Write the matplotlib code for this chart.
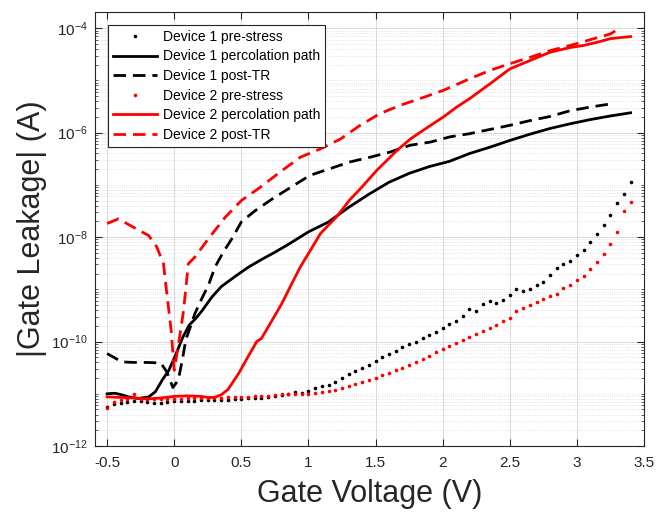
"""Gate leakage vs gate voltage for two devices (pre-stress, percolation path, post-TR)."""

import matplotlib

matplotlib.use("Agg")
import matplotlib.pyplot as plt
import numpy as np
from matplotlib.ticker import FixedLocator, LogLocator, NullFormatter

plt.rcParams["font.family"] = ["Liberation Sans", "DejaVu Sans"]
plt.rcParams["mathtext.default"] = "regular"

# Voltage sweep of the pre-stress measurements (V)
v_sweep = np.round(np.arange(-0.5, 3.4001, 0.05), 2)

# log10 |I_gate| (A)
d1_pre_log = [
    -11.25, -11.20, -11.17, -11.15, -11.14, -11.14, -11.16, -11.18, -11.18, -11.16,
    -11.14, -11.14, -11.13, -11.13, -11.12, -11.12, -11.12, -11.11, -11.11, -11.10,
    -11.10, -11.09, -11.09, -11.08, -11.07, -11.05, -11.02, -11.01, -10.97, -10.98,
    -10.95, -10.89, -10.85, -10.83, -10.78, -10.70, -10.63, -10.57, -10.51, -10.45,
    -10.38, -10.30, -10.24, -10.18, -10.10, -10.05, -10.00, -9.94, -9.88, -9.82,
    -9.75, -9.67, -9.60, -9.51, -9.38, -9.41, -9.28, -9.22, -9.26, -9.21,
    -9.11, -8.99, -9.03, -9.00, -8.92, -8.86, -8.72, -8.60, -8.52, -8.45,
    -8.35, -8.25, -8.10, -7.95, -7.76, -7.57, -7.34, -7.18, -6.95,
]
d2_pre_log = [
    -11.28, -11.15, -11.12, -11.10, -11.00, -11.10, -11.10, -11.10, -11.10, -11.10,
    -11.10, -11.10, -11.09, -11.09, -11.09, -11.09, -11.08, -11.08, -11.07, -11.07,
    -11.06, -11.06, -11.04, -11.04, -11.04, -11.02, -11.01, -11.01, -11.01, -11.00,
    -11.01, -10.99, -10.97, -10.95, -10.92, -10.89, -10.85, -10.81, -10.78, -10.74,
    -10.69, -10.64, -10.60, -10.55, -10.50, -10.44, -10.39, -10.33, -10.27, -10.20,
    -10.15, -10.08, -10.03, -9.97, -9.91, -9.86, -9.80, -9.74, -9.68, -9.60,
    -9.54, -9.42, -9.35, -9.30, -9.24, -9.19, -9.13, -9.09, -8.98, -8.92,
    -8.83, -8.75, -8.62, -8.48, -8.33, -8.14, -7.90, -7.50, -7.32,
]

d1_perc_v = [
    -0.5, -0.44, -0.39, -0.34, -0.27, -0.19, -0.14, -0.09, -0.04, 0.01,
    0.06, 0.11, 0.16, 0.21, 0.28, 0.35, 0.45, 0.55, 0.65, 0.75,
    0.85, 1.0, 1.15, 1.3, 1.45, 1.6, 1.75, 1.9, 2.05, 2.2,
    2.35, 2.5, 2.65, 2.8, 2.95, 3.1, 3.25, 3.4,
]
d1_perc_log = [
    -11.00, -10.99, -11.02, -11.06, -11.09, -11.06, -10.96, -10.74, -10.55, -10.26,
    -9.94, -9.69, -9.56, -9.40, -9.15, -8.95, -8.76, -8.58, -8.43, -8.29,
    -8.14, -7.90, -7.71, -7.43, -7.18, -6.95, -6.78, -6.65, -6.55, -6.40,
    -6.28, -6.15, -6.03, -5.92, -5.83, -5.75, -5.68, -5.62,
]

d1_post_v = [
    -0.5, -0.39, -0.3, -0.2, -0.1, -0.055, -0.01, 0.03, 0.06, 0.086,
    0.12, 0.155, 0.205, 0.255, 0.305, 0.367, 0.43, 0.5, 0.6, 0.73,
    0.86, 1.01, 1.16, 1.31, 1.46, 1.61, 1.76, 1.91, 2.055, 2.2,
    2.35, 2.5, 2.65, 2.8, 2.95, 3.1, 3.25,
]
d1_post_log = [
    -10.23, -10.39, -10.40, -10.40, -10.41, -10.58, -10.88, -10.74, -10.36, -9.97,
    -9.72, -9.46, -9.18, -8.92, -8.57, -8.28, -8.03, -7.71, -7.50, -7.27,
    -7.06, -6.82, -6.69, -6.56, -6.47, -6.37, -6.24, -6.18, -6.08, -6.02,
    -5.94, -5.86, -5.77, -5.69, -5.58, -5.51, -5.45,
]

d2_perc_v = [
    -0.5, -0.4, -0.3, -0.2, -0.1, 0.0, 0.1, 0.2, 0.25, 0.3,
    0.35, 0.4, 0.48, 0.55, 0.615, 0.65, 0.73, 0.8, 0.876, 0.94,
    1.09, 1.21, 1.31, 1.385, 1.51, 1.66, 1.76, 1.91, 2.005, 2.105,
    2.2, 2.35, 2.5, 2.65, 2.8, 2.95, 3.05, 3.15, 3.25, 3.4,
]
d2_perc_log = [
    -11.06, -11.07, -11.08, -11.10, -11.08, -11.05, -11.04, -11.05, -11.07, -11.07,
    -11.02, -10.92, -10.61, -10.29, -10.00, -9.94, -9.59, -9.28, -8.89, -8.57,
    -7.93, -7.61, -7.28, -7.08, -6.72, -6.34, -6.12, -5.86, -5.70, -5.51,
    -5.35, -5.07, -4.78, -4.62, -4.46, -4.37, -4.33, -4.27, -4.20, -4.16,
]

d2_post_v = [
    -0.5, -0.415, -0.34, -0.27, -0.19, -0.13, -0.08, -0.055, -0.023, 0.0,
    0.035, 0.07, 0.105, 0.155, 0.255, 0.38, 0.5, 0.65, 0.79, 0.94,
    1.09, 1.24, 1.385, 1.53, 1.68, 1.83, 2.005, 2.2, 2.35, 2.5,
    2.65, 2.8, 2.95, 3.1, 3.25, 3.3,
]
d2_post_log = [
    -7.74, -7.65, -7.76, -7.86, -7.97, -8.19, -8.51, -9.08, -9.78, -10.55,
    -10.00, -9.40, -8.51, -8.38, -8.03, -7.62, -7.30, -7.03, -6.75, -6.47,
    -6.31, -6.12, -5.86, -5.64, -5.48, -5.35, -5.19, -4.97, -4.81, -4.68,
    -4.56, -4.43, -4.33, -4.22, -4.11, -4.03,
]

x_ticks = [-0.5, 0, 0.5, 1, 1.5, 2, 2.5, 3, 3.5]
y_ticks = [1e-12, 1e-10, 1e-8, 1e-6, 1e-4]
y_tick_labels = [r"$10^{-12}$", r"$10^{-10}$", r"$10^{-8}$", r"$10^{-6}$", r"$10^{-4}$"]


def to_amps(log_vals):
    return 10.0 ** np.asarray(log_vals)


fig = plt.figure(figsize=(6.58, 5.13), dpi=100)
ax = fig.add_axes([0.1444, 0.1306, 0.8343, 0.846])

dash = (0, (4.5, 2.5))
ax.plot(v_sweep, to_amps(d1_pre_log), "o", color="black", markersize=2.6,
        markeredgewidth=0, label="Device 1 pre-stress")
ax.plot(d1_perc_v, to_amps(d1_perc_log), "-", color="black", linewidth=2,
        label="Device 1 percolation path")
ax.plot(d1_post_v, to_amps(d1_post_log), color="black", linestyle=dash,
        linewidth=2, label="Device 1 post-TR")
ax.plot(v_sweep, to_amps(d2_pre_log), "o", color="red", markersize=2.6,
        markeredgewidth=0, label="Device 2 pre-stress")
ax.plot(d2_perc_v, to_amps(d2_perc_log), "-", color="red", linewidth=2,
        label="Device 2 percolation path")
ax.plot(d2_post_v, to_amps(d2_post_log), color="red", linestyle=dash,
        linewidth=2, label="Device 2 post-TR")

ax.set_yscale("log")
ax.set_xlim(-0.59, 3.5)
ax.set_ylim(1e-12, 10 ** -3.69)

ax.set_xticks(x_ticks)
ax.set_xticklabels([f"{t:g}" for t in x_ticks])
ax.yaxis.set_major_locator(FixedLocator(y_ticks))
ax.set_yticklabels(y_tick_labels)
ax.yaxis.set_minor_locator(LogLocator(base=10, subs=np.arange(1, 10), numticks=30))
ax.yaxis.set_minor_formatter(NullFormatter())

ax.tick_params(which="both", direction="in", top=True, right=True,
               colors="#262626", labelsize=11)
ax.tick_params(which="major", length=5, width=0.8)
ax.tick_params(which="minor", length=2.5, width=0.5)
ax.tick_params(axis="x", pad=7)
ax.tick_params(axis="y", pad=5)
for spine in ax.spines.values():
    spine.set_color("#262626")
    spine.set_linewidth(0.8)

ax.grid(True, which="major", color="#d9d9d9", linewidth=0.7)
ax.grid(True, which="minor", axis="y", color="#d9d9d9", linestyle=":", linewidth=0.6)
ax.set_axisbelow(True)

ax.set_xlabel("Gate Voltage (V)", fontsize=22, color="#262626", labelpad=7)
ax.set_ylabel("|Gate Leakage| (A)", fontsize=22, color="#262626", labelpad=3)

leg = ax.legend(loc="upper left", bbox_to_anchor=(0.023, 0.97), fontsize=10,
                handlelength=3.2, handletextpad=0.4, labelspacing=0.4,
                numpoints=1, markerscale=1.0, fancybox=False, framealpha=1,
                edgecolor="#262626", borderaxespad=0.0, borderpad=0.35)
leg.get_frame().set_linewidth(0.8)

fig.savefig("out.png", dpi=100)
